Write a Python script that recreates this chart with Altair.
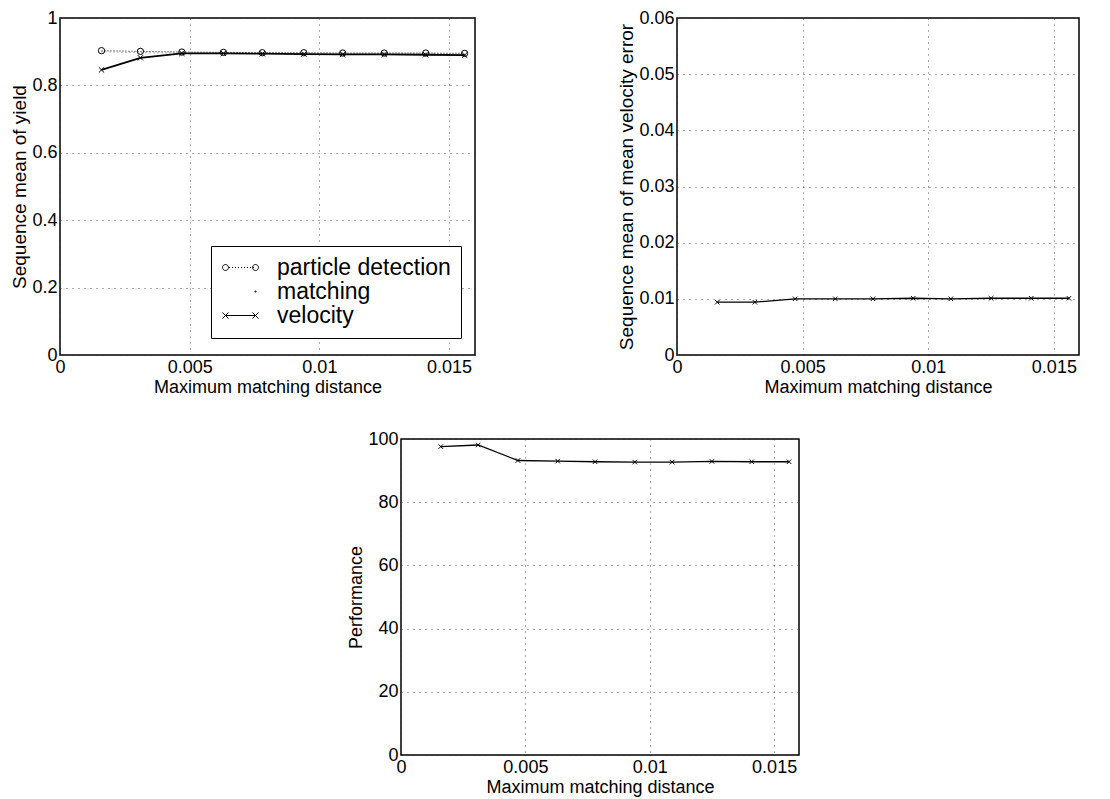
import altair as alt
import pandas as pd

# ---- data ----
distance = [0.0016, 0.0031, 0.0047, 0.0063, 0.0078, 0.0094, 0.0109, 0.0125, 0.0141, 0.0156]
yield_particle = [0.903, 0.901, 0.899, 0.898, 0.897, 0.897, 0.896, 0.896, 0.896, 0.895]
yield_matching = [0.900, 0.897, 0.896, 0.895, 0.895, 0.894, 0.893, 0.893, 0.893, 0.892]
yield_velocity = [0.846, 0.882, 0.895, 0.895, 0.894, 0.893, 0.892, 0.892, 0.891, 0.890]
vel_error = [0.0094, 0.0094, 0.0100, 0.0100, 0.0100, 0.0101, 0.0100, 0.0101, 0.0101, 0.0101]
performance = [97.6, 98.1, 93.2, 93.0, 92.8, 92.7, 92.7, 92.9, 92.8, 92.8]

series_names = ["particle detection", "matching", "velocity"]
x_ticks = [0, 0.005, 0.01, 0.015]
y1_ticks = [0, 0.2, 0.4, 0.6, 0.8, 1.0]
y2_ticks = [0, 0.01, 0.02, 0.03, 0.04, 0.05, 0.06]
y3_ticks = [0, 20, 40, 60, 80, 100]

FONT = "Liberation Sans"

yield_df = pd.DataFrame({
    "d": distance * 3,
    "v": yield_particle + yield_matching + yield_velocity,
    "series": [series_names[0]] * 10 + [series_names[1]] * 10 + [series_names[2]] * 10,
})
err_df = pd.DataFrame({"d": distance, "v": vel_error})
perf_df = pd.DataFrame({"d": distance, "v": performance})


# ---- legend symbol paths (line sample + markers) ----
def circ(cx, r):
    return f"M{cx + r},0A{r},{r} 0 1,1 {cx - r},0A{r},{r} 0 1,1 {cx + r},0"


def xmark(cx, h):
    return f"M{cx - h},{-h}L{cx + h},{h}M{cx - h},{h}L{cx + h},{-h}"


dots = "".join(f"M{-0.35 + 0.3 * i:.2f},0L{-0.25 + 0.3 * i:.2f},0" for i in range(9))
path_particle = circ(-0.7, 0.3) + dots + circ(2.3, 0.3)
path_matching = circ(2.3, 0.06)
path_velocity = "M-0.7,0L2.3,0" + xmark(-0.7, 0.3) + xmark(2.3, 0.3)
XPATH = "M-1,-1L1,1M-1,1L1,-1"

x_enc = alt.X("d:Q", scale=alt.Scale(domain=[0, 0.016], nice=False),
              axis=alt.Axis(values=x_ticks, format="~g", title="Maximum matching distance"))


def yaxis(title, ticks, tsize, fmt):
    return alt.Axis(values=ticks, format=fmt, title=title, titleFontSize=tsize)


# ---- panel 1 ----
y1 = alt.Y("v:Q", scale=alt.Scale(domain=[0, 1], nice=False),
           axis=yaxis("Sequence mean of yield", y1_ticks, 19, "~g"))
base1 = alt.Chart(yield_df)

p_line = base1.transform_filter(alt.datum.series == series_names[0]).mark_line(
    color="black", strokeWidth=1, strokeDash=[1, 2]).encode(x=x_enc, y=y1)
p_pts = base1.transform_filter(alt.datum.series == series_names[0]).mark_point(
    shape="circle", size=40, color="black", filled=False, strokeWidth=1, opacity=1).encode(x=x_enc, y=y1)
m_line = base1.transform_filter(alt.datum.series == series_names[1]).mark_line(
    color="#444", strokeWidth=0.8, strokeDash=[1, 3]).encode(x=x_enc, y=y1)
v_line = base1.transform_filter(alt.datum.series == series_names[2]).mark_line(
    color="black", strokeWidth=1.8).encode(x=x_enc, y=y1)
v_pts = base1.transform_filter(alt.datum.series == series_names[2]).mark_point(
    shape=XPATH, size=28, color="black", filled=False, strokeWidth=1, opacity=1).encode(x=x_enc, y=y1)
legend_layer = base1.mark_point(opacity=0).encode(
    x=x_enc, y=y1,
    shape=alt.Shape("series:N",
                    scale=alt.Scale(domain=series_names,
                                    range=[path_particle, path_matching, path_velocity]),
                    legend=alt.Legend(title=None, orient="none", legendX=151, legendY=228,
                                      symbolSize=400, symbolOpacity=1, symbolStrokeColor="black",
                                      symbolFillColor="transparent", symbolStrokeWidth=1,
                                      labelFont=FONT, labelFontSize=23, labelColor="black",
                                      labelOffset=33, rowPadding=0,
                                      strokeColor="black", fillColor="white", padding=10,
                                      labelLimit=400)))
panel1 = alt.layer(p_line, m_line, v_line, p_pts, v_pts, legend_layer).properties(width=415, height=337)

# ---- panel 2 ----
y2 = alt.Y("v:Q", scale=alt.Scale(domain=[0, 0.06], nice=False),
           axis=yaxis("Sequence mean of mean velocity error", y2_ticks, 19, "~g"))
b2 = alt.Chart(err_df)
panel2 = alt.layer(
    b2.mark_line(color="black", strokeWidth=1.3).encode(x=x_enc, y=y2),
    b2.mark_point(shape=XPATH, size=20, color="black", filled=False, strokeWidth=1, opacity=1).encode(x=x_enc, y=y2),
).properties(width=402, height=337)

# ---- panel 3 ----
y3 = alt.Y("v:Q", scale=alt.Scale(domain=[0, 100], nice=False),
           axis=yaxis("Performance", y3_ticks, 18, "d"))
b3 = alt.Chart(perf_df)
panel3 = alt.layer(
    b3.mark_line(color="black", strokeWidth=1.3).encode(x=x_enc, y=y3),
    b3.mark_point(shape=XPATH, size=20, color="black", filled=False, strokeWidth=1, opacity=1).encode(x=x_enc, y=y3),
).properties(width=398, height=316)

spacer = alt.Chart(pd.DataFrame({"a": [0]})).mark_point(opacity=0).encode(
    x=alt.value(0), y=alt.value(0)
).properties(width=341, height=316, view=alt.ViewBackground(stroke="transparent"))

top = alt.hconcat(panel1, panel2, spacing=202, bounds="flush")
bottom = alt.hconcat(spacer, panel3, spacing=0, bounds="flush")

chart = alt.vconcat(top, bottom, spacing=421, bounds="flush").properties(
    padding={"left": 2, "top": 0, "right": 5, "bottom": 0},
    background="white",
).configure_view(
    stroke="black", strokeWidth=1.5
).configure_axis(
    labelFont=FONT, titleFont=FONT, labelFontSize=18, titleFontSize=18,
    labelColor="black", titleColor="black", titleFontWeight="normal",
    domain=False, ticks=False, labelPadding=3, titlePadding=2,
    grid=True, gridColor="#333", gridDash=[1, 5], gridWidth=1, gridOpacity=0.8,
    labelOverlap=False, labelFlush=False,
)

chart.save("out.html", embed_options={"renderer": "svg", "actions": False})
